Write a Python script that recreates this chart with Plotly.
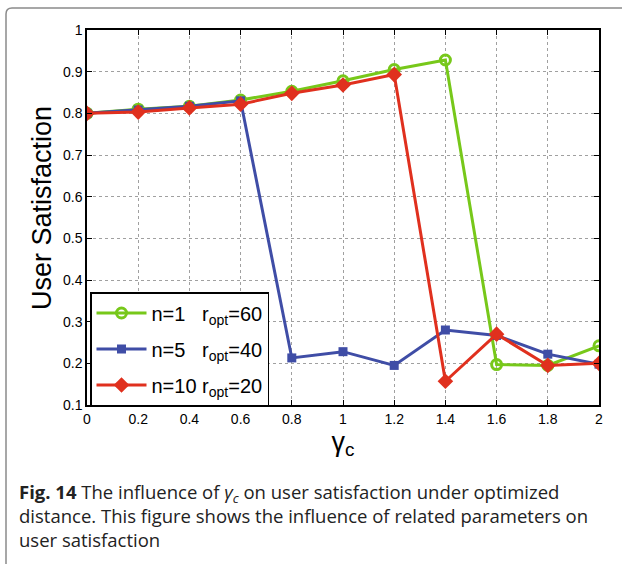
import plotly.graph_objects as go

x_vals = [0, 0.2, 0.4, 0.6, 0.8, 1.0, 1.2, 1.4, 1.6, 1.8, 2.0]
green_n1 = [0.800, 0.810, 0.817, 0.832, 0.853, 0.878, 0.905, 0.928, 0.197, 0.195, 0.242]
blue_n5 = [0.800, 0.808, 0.817, 0.830, 0.213, 0.228, 0.195, 0.280, 0.267, 0.222, 0.198]
red_n10 = [0.800, 0.803, 0.813, 0.822, 0.848, 0.868, 0.893, 0.157, 0.270, 0.195, 0.200]
x_ticks = [0, 0.2, 0.4, 0.6, 0.8, 1, 1.2, 1.4, 1.6, 1.8, 2]
y_ticks = [0.1, 0.2, 0.3, 0.4, 0.5, 0.6, 0.7, 0.8, 0.9, 1]

W, H = 622, 564
L, R, T, B = 87, 599, 30, 405

def px(x):
    return (x - L) / (R - L)

def py(y):
    return (B - y) / (B - T)

fig = go.Figure()
fig.add_trace(go.Scatter(x=x_vals, y=green_n1, mode="lines+markers",
    name="n=1   r<sub>opt</sub>=60", legendgroup="g1",
    line=dict(color="#77c81a", width=3),
    marker=dict(symbol="circle-open", size=10, color="#77c81a", line=dict(width=3))))
fig.add_trace(go.Scatter(x=x_vals, y=blue_n5, mode="lines+markers",
    name="n=5   r<sub>opt</sub>=40", legendgroup="g2",
    line=dict(color="#3f4da6", width=3),
    marker=dict(symbol="square", size=9, color="#3f4da6")))
fig.add_trace(go.Scatter(x=x_vals, y=red_n10, mode="lines+markers",
    name="n=10 r<sub>opt</sub>=20", legendgroup="g3",
    line=dict(color="#e0301e", width=3),
    marker=dict(symbol="diamond", size=12, color="#e0301e")))

axis_common = dict(
    showline=True, linecolor="black", linewidth=1.5, mirror="ticks",
    ticks="inside", ticklen=5, tickcolor="black",
    showgrid=True, gridcolor="#a0a0a0", griddash="dot", gridwidth=1,
    zeroline=False, tickfont=dict(family="Liberation Sans, Arial", size=14, color="black"),
)

fig.update_xaxes(range=[0, 2], tickvals=x_ticks, ticktext=[str(t) for t in x_ticks],
                 title=dict(text="γ<sub>c</sub>", font=dict(family="Liberation Sans, Arial", size=27, color="black"), standoff=6),
                 **axis_common)
fig.update_yaxes(range=[0.1, 1], tickvals=y_ticks, ticktext=[str(t) for t in y_ticks],
                 **axis_common)

frame_path = (f"M {px(6)} {py(570)} L {px(6)} {py(14)} "
              f"Q {px(6)} {py(8)} {px(12)} {py(8)} L {px(630)} {py(8)}")

fig.update_layout(
    width=W, height=H,
    margin=dict(l=L, r=W - R, t=T, b=H - B),
    paper_bgcolor="white", plot_bgcolor="white",
    showlegend=True,
    legend=dict(x=px(90), y=py(292), xanchor="left", yanchor="top",
                bgcolor="white", bordercolor="black", borderwidth=1.5,
                font=dict(family="Liberation Sans, Arial", size=20, color="black"),
                tracegroupgap=7, itemwidth=50),
    shapes=[dict(type="path", xref="paper", yref="paper", path=frame_path,
                 line=dict(color="#8a8a8a", width=1.5), layer="below")],
    annotations=[
        dict(xref="paper", yref="paper", x=px(42), y=py(208), xanchor="center", yanchor="middle",
             textangle=-90, showarrow=False, text="User Satisfaction",
             font=dict(family="Liberation Sans, Arial", size=27, color="black")),
        dict(xref="paper", yref="paper", x=px(17), y=py(477), xanchor="left", yanchor="top",
             align="left", showarrow=False,
             text=("<b>Fig. 14</b> The influence of <i>γ<sub>c</sub></i> on user satisfaction under optimized<br>"
                   "distance. This figure shows the influence of related parameters on<br>"
                   "user satisfaction"),
             font=dict(family="Open Sans", size=18.5, color="#222222"))],
)

fig.write_html("out.html")
